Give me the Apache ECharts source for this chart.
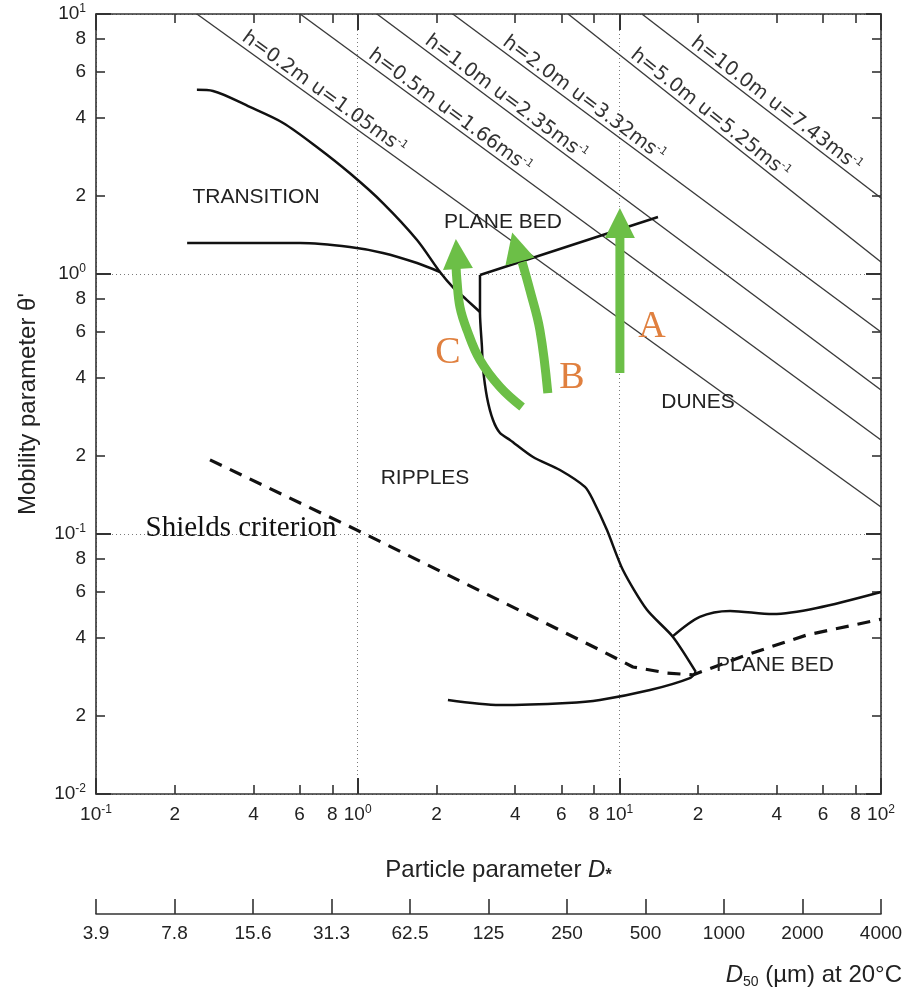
<!DOCTYPE html>
<html>
<head>
<meta charset="utf-8">
<script src="https://cdn.jsdelivr.net/npm/echarts@6.0.0/dist/echarts.min.js"></script>
<style>
  html, body { margin: 0; padding: 0; background: #fff; }
  #chart { width: 906px; height: 989px; }
</style>
</head>
<body>
<div id="chart"></div>
<script>
// bedform regions, particle parameter D* against mobility parameter theta'

// flow depth lines: each runs from theta'=10 (top) down to D*=100 (right edge)
const depthLabels = ['h=0.2m u=1.05ms', 'h=0.5m u=1.66ms', 'h=1.0m u=2.35ms', 'h=2.0m u=3.32ms', 'h=5.0m u=5.25ms', 'h=10.0m u=7.43ms'];
const depthStartD = [0.243, 0.603, 1.185, 2.31, 6.37, 12.2];
const depthEndTheta = [0.127, 0.230, 0.358, 0.598, 1.112, 1.96];

const transitionUpperD = [0.243, 0.280, 0.387, 0.519, 0.698, 0.934, 1.249, 1.686, 2.063, 2.31, 2.616, 2.934];
const transitionUpperTheta = [5.11, 5.06, 4.39, 3.81, 3.08, 2.44, 1.875, 1.352, 1.018, 0.891, 0.794, 0.714];
const transitionLowerD = [0.223, 0.603, 0.934, 1.249, 1.686, 2.063];
const transitionLowerTheta = [1.315, 1.315, 1.27, 1.205, 1.102, 1.018];
const planeBedUpperD = [2.934, 14.05];
const planeBedUpperTheta = [0.991, 1.656];
const rippleDuneD = [2.934, 2.934, 2.985, 3.01, 3.12, 3.29, 3.50, 3.82, 4.68, 5.93, 7.39, 7.93, 8.97, 10.32, 12.75, 16.03, 19.6];
const rippleDuneTheta = [0.991, 0.708, 0.524, 0.438, 0.336, 0.2745, 0.2446, 0.230, 0.1977, 0.1762, 0.1517, 0.1352, 0.1035, 0.0727, 0.0511, 0.0402, 0.0295];
const planeBedLowerD = [19.6, 18.6, 13.1, 8.43, 6.31, 3.50, 2.213];
const planeBedLowerTheta = [0.0295, 0.0279, 0.0251, 0.0230, 0.0224, 0.0220, 0.0230];
const duneUpperRightD = [15.9, 20.3, 26.5, 38.6, 56.9, 100];
const duneUpperRightTheta = [0.0402, 0.048, 0.0506, 0.0492, 0.0519, 0.0598];
const shieldsD = [0.2727, 0.994, 8.43, 11.27, 15.2, 19.1, 30.7, 52.1, 100];
const shieldsTheta = [0.1927, 0.1035, 0.0358, 0.0308, 0.0292, 0.0287, 0.0343, 0.0409, 0.047];

// green arrows A, B, C (hand drawn paths)
const arrowAD = [10.05, 10.05];
const arrowATheta = [0.416, 1.40];
const arrowBD = [5.33, 4.97, 4.55, 4.25];
const arrowBTheta = [0.348, 0.609, 0.868, 1.112];
const arrowCD = [4.25, 3.50, 2.934, 2.617, 2.46, 2.395, 2.375];
const arrowCTheta = [0.308, 0.3676, 0.467, 0.609, 0.746, 0.948, 1.083];
const arrowHeadD = [10.05, 4.03, 2.395];
const arrowHeadTheta = [1.57, 1.27, 1.194];
const arrowHeadTilt = [0, 15, 4];

// tick labels
const xMinorTicks = [0.2, 0.4, 0.6, 0.8, 2, 4, 6, 8, 20, 40, 60, 80];
const yMinorTicks = [0.02, 0.04, 0.06, 0.08, 0.2, 0.4, 0.6, 0.8, 2, 4, 6, 8];
const d50Labels = ['3.9', '7.8', '15.6', '31.3', '62.5', '125', '250', '500', '1000', '2000', '4000'];

const regionNames = ['TRANSITION', 'PLANE BED', 'DUNES', 'RIPPLES', 'PLANE BED'];
const caseLetters = ['A', 'B', 'C'];

const sans = '"Liberation Sans", Arial, sans-serif';
const serif = '"Liberation Serif", "Times New Roman", serif';
const ink = '#222';
const frame = '#333';
const green = '#6cbf47';
const orange = '#e0803f';

const pairs = (xs, ys) => xs.map((x, i) => [x, ys[i]]);
const log10 = v => Math.log10(v);

const decadeRich = {
  b: { fontSize: 19, fontFamily: sans, color: ink, lineHeight: 22 },
  s: { fontSize: 12, fontFamily: sans, color: ink, lineHeight: 12, verticalAlign: 'top' }
};
const decadeLabel = v => '{b|10}{s|' + Math.round(Math.log10(v)) + '}';
const mantissaLabel = v => {
  const e = Math.floor(v + 1e-9);
  return String(Math.round(Math.pow(10, v - e)));
};

const frameLine = { show: true, onZero: false, lineStyle: { color: frame, width: 1.6 } };
const majorTick = len => ({ show: true, inside: true, length: len, lineStyle: { color: frame, width: 2 } });
const minorTick = vals => ({ show: true, inside: true, length: 9, customValues: vals, lineStyle: { color: frame, width: 1.6 } });
const gridDots = { show: true, lineStyle: { color: '#7a7a7a', width: 1, type: [1, 3] } };

const boundary = (xs, ys, smooth) => ({
  type: 'line', data: pairs(xs, ys), symbol: 'none', smooth: smooth, silent: true, z: 3,
  lineStyle: { color: '#111', width: 2.5 }
});
const arrowBody = (xs, ys) => ({
  type: 'line', data: pairs(xs, ys), symbol: 'none', smooth: 0.4, silent: true, z: 5,
  lineStyle: { color: green, width: 9, cap: 'butt' }
});

const series = [];
depthStartD.forEach((d, i) => {
  series.push({
    type: 'line', data: [[d, 10], [100, depthEndTheta[i]]], symbol: 'none', silent: true, z: 2,
    lineStyle: { color: '#3a3a3a', width: 1.4 }
  });
});
series.push(boundary(transitionUpperD, transitionUpperTheta, 0.3));
series.push(boundary(transitionLowerD, transitionLowerTheta, 0.3));
series.push(boundary(planeBedUpperD, planeBedUpperTheta, false));
series.push(boundary(rippleDuneD, rippleDuneTheta, 0.25));
series.push(boundary(planeBedLowerD, planeBedLowerTheta, 0.3));
series.push(boundary(duneUpperRightD, duneUpperRightTheta, 0.3));
series.push({
  type: 'line', data: pairs(shieldsD, shieldsTheta), symbol: 'none', silent: true, z: 3,
  lineStyle: { color: '#111', width: 3.2, type: [13, 9] }
});
series.push(arrowBody(arrowAD, arrowATheta));
series.push(arrowBody(arrowBD, arrowBTheta));
series.push(arrowBody(arrowCD, arrowCTheta));
series.push({
  type: 'scatter', symbol: 'triangle', symbolSize: [30, 30], silent: true, z: 6,
  itemStyle: { color: green, opacity: 1 },
  data: arrowHeadD.map((d, i) => ({ value: [d, arrowHeadTheta[i]], symbolRotate: arrowHeadTilt[i] }))
});

const chart = echarts.init(document.getElementById('chart'));
chart.setOption({
  animation: false,
  backgroundColor: '#fff',
  grid: { left: 96, right: 25, top: 14, bottom: 195, outerBoundsMode: 'none' },
  xAxis: [
    {
      type: 'log', logBase: 10, min: 0.1, max: 100, position: 'bottom',
      name: '{n|Particle parameter }{i|D}{sub|*}', nameLocation: 'middle', nameGap: 62,
      nameTextStyle: {
        padding: [0, 0, 0, 20],
        rich: {
          n: { fontSize: 24, fontFamily: sans, color: ink, lineHeight: 28 },
          i: { fontSize: 24, fontFamily: sans, color: ink, lineHeight: 28, fontStyle: 'italic' },
          sub: { fontSize: 16, fontFamily: sans, color: ink, lineHeight: 12, fontWeight: 'bold', verticalAlign: 'bottom' }
        }
      },
      axisLine: frameLine, axisTick: majorTick(16),
      axisLabel: { margin: 10, formatter: decadeLabel, rich: decadeRich, showMinLabel: true, showMaxLabel: true },
      splitLine: gridDots
    },
    {
      type: 'value', min: -1, max: 2, position: 'bottom',
      axisLine: { show: false, onZero: false }, axisTick: minorTick(xMinorTicks.map(log10)),
      axisLabel: { margin: 10, customValues: xMinorTicks.map(log10), formatter: mantissaLabel, fontSize: 19, lineHeight: 22, fontFamily: sans, color: ink },
      splitLine: { show: false }
    },
    {
      type: 'log', logBase: 10, min: 0.1, max: 100, position: 'top',
      axisLine: frameLine, axisTick: majorTick(16), axisLabel: { show: false }, splitLine: { show: false }
    },
    {
      type: 'value', min: -1, max: 2, position: 'top',
      axisLine: { show: false, onZero: false }, axisTick: minorTick(xMinorTicks.map(log10)),
      axisLabel: { show: false }, splitLine: { show: false }
    },
    {
      type: 'value', min: 0, max: 10, interval: 1, position: 'bottom', offset: 120,
      axisLine: { show: true, onZero: false, lineStyle: { color: frame, width: 1.6 } },
      axisTick: { show: true, inside: true, length: 15, lineStyle: { color: frame, width: 1.6 } },
      axisLabel: { margin: 10, formatter: v => d50Labels[v], fontSize: 19, fontFamily: sans, color: ink, showMinLabel: true, showMaxLabel: true },
      splitLine: { show: false }
    }
  ],
  yAxis: [
    {
      type: 'log', logBase: 10, min: 0.01, max: 10, position: 'left',
      name: "Mobility parameter θ'", nameLocation: 'middle', nameGap: 56,
      nameTextStyle: { fontSize: 24, fontFamily: sans, color: ink },
      axisLine: frameLine, axisTick: majorTick(15),
      axisLabel: { margin: 10, formatter: decadeLabel, rich: decadeRich, showMinLabel: true, showMaxLabel: true },
      splitLine: gridDots
    },
    {
      type: 'value', min: -2, max: 1, position: 'left',
      axisLine: { show: false, onZero: false }, axisTick: minorTick(yMinorTicks.map(log10)),
      axisLabel: { margin: 10, customValues: yMinorTicks.map(log10), formatter: mantissaLabel, fontSize: 19, fontFamily: sans, color: ink },
      splitLine: { show: false }
    },
    {
      type: 'log', logBase: 10, min: 0.01, max: 10, position: 'right',
      axisLine: frameLine, axisTick: majorTick(15), axisLabel: { show: false }, splitLine: { show: false }
    },
    {
      type: 'value', min: -2, max: 1, position: 'right',
      axisLine: { show: false, onZero: false }, axisTick: minorTick(yMinorTicks.map(log10)),
      axisLabel: { show: false }, splitLine: { show: false }
    }
  ],
  series: series
});

// annotations: depth labels follow their lines, the rest sit at fixed spots
const depthLabelX = [318, 444, 500, 578, 704, 770];
const regionPos = [[256, 197], [503, 222], [698, 402], [425, 478], [775, 665]];
const letterPos = [[652, 327], [572, 378], [448, 353]];

const graphics = [];
depthStartD.forEach((d, i) => {
  const p0 = chart.convertToPixel({ xAxisIndex: 0, yAxisIndex: 0 }, [d, 10]);
  const p1 = chart.convertToPixel({ xAxisIndex: 0, yAxisIndex: 0 }, [100, depthEndTheta[i]]);
  const dx = p1[0] - p0[0], dy = p1[1] - p0[1];
  const len = Math.sqrt(dx * dx + dy * dy);
  const t = (depthLabelX[i] - p0[0]) / dx;
  const off = 10;
  graphics.push({
    type: 'text',
    x: p0[0] + t * dx + off * dy / len,
    y: p0[1] + t * dy - off * dx / len,
    rotation: -Math.atan2(dy, dx),
    z: 10,
    style: {
      text: '{t|' + depthLabels[i] + '}{sup|-1}',
      align: 'center', verticalAlign: 'middle', textAlign: 'center', textVerticalAlign: 'middle',
      rich: {
        t: { fontSize: 19.5, fontFamily: '"DejaVu Sans", sans-serif', fill: '#333', lineHeight: 21 },
        sup: { fontSize: 11, fontFamily: '"DejaVu Sans", sans-serif', fill: '#333', lineHeight: 11, verticalAlign: 'top' }
      }
    }
  });
});
regionNames.forEach((name, i) => {
  graphics.push({
    type: 'text', x: regionPos[i][0], y: regionPos[i][1], z: 10,
    style: {
      text: name, fontSize: 21, fontFamily: sans, fill: ink,
      align: 'center', verticalAlign: 'middle', textAlign: 'center', textVerticalAlign: 'middle'
    }
  });
});
caseLetters.forEach((c, i) => {
  graphics.push({
    type: 'text', x: letterPos[i][0], y: letterPos[i][1], z: 10,
    style: {
      text: c, fontSize: 38, fontFamily: serif, fill: orange,
      align: 'center', verticalAlign: 'middle', textAlign: 'center', textVerticalAlign: 'middle'
    }
  });
});
graphics.push({
  type: 'text', x: 241, y: 528, z: 10,
  style: {
    text: 'Shields criterion', fontSize: 29, fontFamily: serif, fill: '#111',
    align: 'center', verticalAlign: 'middle', textAlign: 'center', textVerticalAlign: 'middle'
  }
});
graphics.push({
  type: 'text', x: 902, y: 975, z: 10,
  style: {
    text: '{i|D}{sub|50}{n| (µm) at 20°C}',
    align: 'right', verticalAlign: 'middle', textAlign: 'right', textVerticalAlign: 'middle',
    rich: {
      i: { fontSize: 24, fontFamily: sans, fill: ink, fontStyle: 'italic', lineHeight: 28 },
      sub: { fontSize: 14, fontFamily: sans, fill: ink, lineHeight: 14, verticalAlign: 'bottom' },
      n: { fontSize: 24, fontFamily: sans, fill: ink, lineHeight: 28 }
    }
  }
});
chart.setOption({ graphic: graphics });
</script>
</body>
</html>
